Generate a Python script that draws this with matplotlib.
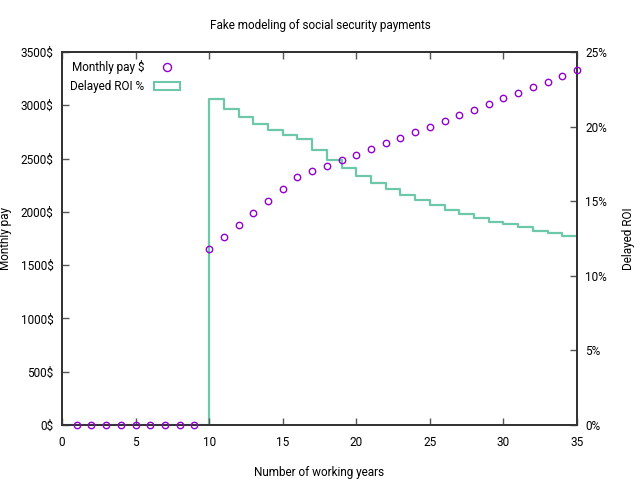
import matplotlib
matplotlib.use("Agg")
import matplotlib.pyplot as plt
from matplotlib.patches import Rectangle
from matplotlib.lines import Line2D
from matplotlib.ticker import FuncFormatter, MultipleLocator

plt.rcParams['font.family'] = ['Roboto', 'DejaVu Sans']
plt.rcParams['font.size'] = 8.5

years_pay = list(range(1, 36))
monthly_pay = [0, 0, 0, 0, 0, 0, 0, 0, 0,
               1654, 1767, 1880, 1992, 2105, 2217, 2324, 2380, 2430, 2487,
               2536, 2590, 2643, 2696, 2747, 2799, 2853, 2906, 2959, 3012,
               3066, 3118, 3169, 3221, 3275, 3328]

years_roi = list(range(0, 36))
delayed_roi = [0, 0, 0, 0, 0, 0, 0, 0, 0, 0,
               21.87, 21.20, 20.66, 20.19, 19.79, 19.46, 19.19, 18.43, 17.76,
               17.25, 16.69, 16.24, 15.84, 15.44, 15.08, 14.77, 14.43, 14.16,
               13.89, 13.63, 13.45, 13.25, 13.02, 12.85, 12.69, 12.69]

title = "Fake modeling of social security payments"
xlabel = "Number of working years"
ylabel = "Monthly pay"
y2label = "Delayed ROI"

purple = '#9400d3'
green = '#6cc8a8'

fig = plt.figure(figsize=(6.4, 4.8), dpi=100)
ax = fig.add_axes([62/640, 55/480, 515/640, 373/480])
ax2 = ax.twinx()

ax2.step(years_roi, delayed_roi, where='post', color=green, lw=1.6, zorder=2)
ax.plot(years_pay, monthly_pay, linestyle='none', marker='o', markersize=4.6,
        markerfacecolor='none', markeredgecolor=purple, markeredgewidth=1.0,
        zorder=3, clip_on=False)
ax.set_zorder(ax2.get_zorder() + 1)
ax.patch.set_visible(False)

ax.set_xlim(0, 35)
ax.set_ylim(0, 3500)
ax2.set_ylim(0, 25)
ax.xaxis.set_major_locator(MultipleLocator(5))
ax.yaxis.set_major_locator(MultipleLocator(500))
ax2.yaxis.set_major_locator(MultipleLocator(5))
ax.yaxis.set_major_formatter(FuncFormatter(lambda v, p: f"{int(v)}$"))
ax2.yaxis.set_major_formatter(FuncFormatter(lambda v, p: f"{int(v)}%"))

ax.tick_params(axis='x', direction='in', top=True, length=5, width=1, color='#555555', pad=8)
ax.tick_params(axis='y', direction='in', right=False, length=5, width=1, color='#555555', pad=6)
ax2.tick_params(axis='y', direction='in', length=5, width=1, color='#555555', pad=6)
for a in (ax, ax2):
    for s in a.spines.values():
        s.set_linewidth(1.3)
        s.set_color('#333333')

ax.set_xlabel(xlabel, labelpad=12)
ax.set_ylabel(ylabel)
ax.yaxis.set_label_coords(-0.097, 0.5)
ax2.set_ylabel(y2label)
ax2.yaxis.set_label_coords(1.088, 0.5)
fig.text(0.5, 1 - 25/480, title, ha='center', va='center', fontsize=8.5)

handles = [Line2D([], [], linestyle='none', marker='o', markersize=5.8,
                  markerfacecolor='none', markeredgecolor=purple, markeredgewidth=1.0),
           Rectangle((0, 0), 1, 1, facecolor='none', edgecolor=green, lw=1.5)]
ax.legend(handles, ["Monthly pay $", "Delayed ROI %"], loc='upper left',
          frameon=False, markerfirst=False, handlelength=2.2, handleheight=0.6,
          borderaxespad=0.3, labelspacing=0.5, handletextpad=0.8)

fig.savefig("out.png", dpi=100)
